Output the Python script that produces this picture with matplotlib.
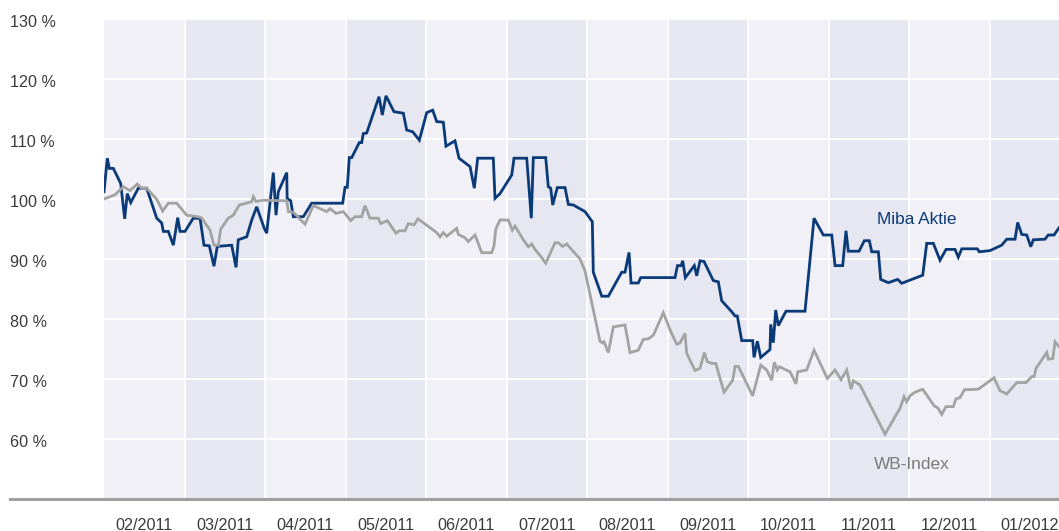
import matplotlib.pyplot as plt
from matplotlib.lines import Line2D

# x = position in months from the left edge of the chart, y = value in %
miba_x = [0.000, 0.041, 0.066, 0.116, 0.207, 0.257, 0.289, 0.332, 0.426, 0.530,
          0.655, 0.717, 0.737, 0.799, 0.861, 0.916, 0.944, 1.006, 1.109, 1.193,
          1.242, 1.308, 1.366, 1.407, 1.586, 1.640, 1.668, 1.773, 1.835, 1.897,
          1.991, 2.021, 2.103, 2.137, 2.165, 2.270, 2.275, 2.319, 2.352, 2.476,
          2.580, 2.965, 2.994, 3.022, 3.047, 3.077, 3.171, 3.201, 3.221, 3.263,
          3.416, 3.457, 3.503, 3.602, 3.718, 3.760, 3.835, 3.917, 4.009, 4.083,
          4.133, 4.215, 4.248, 4.360, 4.410, 4.547, 4.600, 4.642, 4.836, 4.857,
          4.919, 5.065, 5.093, 5.251, 5.308, 5.333, 5.487, 5.519, 5.549, 5.574,
          5.631, 5.727, 5.768, 5.830, 5.975, 6.066, 6.078, 6.183, 6.265, 6.431,
          6.472, 6.522, 6.547, 6.637, 6.667, 7.093, 7.124, 7.168, 7.189, 7.221,
          7.333, 7.363, 7.404, 7.453, 7.569, 7.631, 7.673, 7.798, 7.839, 7.867,
          7.922, 8.058, 8.075, 8.116, 8.158, 8.273, 8.282, 8.314, 8.344, 8.376,
          8.472, 8.708, 8.820, 8.935, 9.040, 9.081, 9.176, 9.217, 9.246, 9.379,
          9.445, 9.507, 9.537, 9.619, 9.648, 9.743, 9.859, 9.909, 10.170, 10.220,
          10.302, 10.385, 10.460, 10.571, 10.612, 10.655, 10.848, 10.873, 11.006, 11.151,
          11.214, 11.317, 11.350, 11.400, 11.462, 11.512, 11.544, 11.689, 11.730, 11.801,
          11.863]
miba_y = [101.2, 106.8, 105.1, 105.1, 102.6, 96.7, 100.9, 99.4, 101.8, 101.8,
          96.8, 96.0, 94.6, 94.6, 92.3, 96.9, 94.6, 94.6, 96.8, 96.8,
          92.3, 92.2, 88.8, 92.1, 92.3, 88.6, 93.2, 93.7, 96.5, 98.7,
          95.1, 94.3, 104.4, 97.3, 101.2, 104.4, 100.1, 99.7, 97.05, 97.05,
          99.3, 99.3, 101.95, 101.95, 106.9, 106.9, 109.4, 109.4, 110.9, 111.0,
          117.05, 114.0, 117.2, 114.55, 114.3, 111.5, 111.2, 109.8, 114.4, 114.8,
          112.9, 112.8, 108.8, 109.7, 106.8, 105.4, 101.8, 106.8, 106.8, 100.1,
          100.9, 104.0, 106.8, 106.8, 96.8, 106.9, 106.9, 102.05, 101.8, 99.0,
          101.9, 101.9, 99.1, 99.0, 97.9, 96.2, 87.8, 83.8, 83.8, 87.8,
          87.8, 91.1, 86.0, 86.0, 86.9, 86.9, 88.9, 88.9, 89.7, 86.9,
          88.9, 87.2, 89.7, 89.6, 86.4, 86.2, 83.05, 81.2, 80.5, 80.5,
          76.4, 76.4, 73.6, 76.3, 73.6, 74.9, 79.1, 76.05, 81.5, 78.9,
          81.3, 81.3, 96.8, 94.0, 94.0, 88.9, 88.9, 94.7, 91.3, 91.3,
          93.05, 93.05, 91.2, 91.2, 86.6, 86.05, 86.6, 85.95, 87.3, 92.6,
          92.6, 89.8, 91.6, 91.6, 90.3, 91.7, 91.7, 91.2, 91.4, 92.3,
          93.3, 93.3, 96.1, 94.1, 94.0, 92.05, 93.2, 93.3, 94.0, 94.0,
          95.2]

wb_x = [0.000, 0.137, 0.240, 0.323, 0.414, 0.468, 0.530, 0.655, 0.729, 0.799,
        0.903, 1.027, 1.171, 1.214, 1.317, 1.366, 1.420, 1.450, 1.544, 1.606,
        1.681, 1.835, 1.855, 1.888, 1.979, 2.270, 2.290, 2.352, 2.497, 2.600,
        2.766, 2.807, 2.882, 2.973, 3.065, 3.118, 3.201, 3.242, 3.304, 3.407,
        3.437, 3.519, 3.627, 3.668, 3.739, 3.780, 3.851, 3.900, 4.133, 4.174,
        4.215, 4.257, 4.381, 4.401, 4.484, 4.525, 4.609, 4.692, 4.816, 4.845,
        4.866, 4.919, 5.022, 5.072, 5.106, 5.209, 5.271, 5.313, 5.354, 5.416,
        5.487, 5.602, 5.643, 5.698, 5.748, 5.913, 5.975, 6.078, 6.161, 6.195,
        6.211, 6.265, 6.327, 6.472, 6.534, 6.637, 6.699, 6.761, 6.824, 6.948,
        7.031, 7.114, 7.155, 7.217, 7.238, 7.342, 7.404, 7.457, 7.494, 7.549,
        7.599, 7.702, 7.810, 7.839, 7.880, 7.963, 8.058, 8.158, 8.232, 8.294,
        8.327, 8.364, 8.389, 8.522, 8.596, 8.617, 8.729, 8.820, 8.985, 9.081,
        9.155, 9.226, 9.280, 9.308, 9.391, 9.702, 9.826, 9.888, 9.938, 9.971,
        10.012, 10.075, 10.170, 10.314, 10.357, 10.406, 10.460, 10.550, 10.584, 10.634,
        10.687, 10.861, 11.056, 11.130, 11.214, 11.276, 11.338, 11.453, 11.524, 11.553,
        11.578, 11.649, 11.711, 11.730, 11.786, 11.814, 11.863]
wb_y = [100.0, 100.7, 102.05, 101.4, 102.5, 101.8, 101.8, 99.95, 98.0, 99.3,
        99.3, 97.3, 97.05, 96.8, 94.8, 92.3, 92.3, 95.0, 96.8, 97.3,
        99.0, 99.55, 100.4, 99.6, 99.8, 99.7, 97.9, 97.8, 95.8, 98.9,
        97.9, 98.4, 97.6, 97.9, 96.4, 97.05, 97.05, 98.9, 96.8, 96.8,
        95.9, 96.4, 94.3, 94.7, 94.7, 95.9, 95.7, 96.7, 94.4, 93.7,
        94.4, 93.8, 95.1, 94.1, 93.55, 92.9, 94.0, 91.05, 91.05, 92.2,
        94.95, 96.5, 96.5, 94.8, 95.5, 93.2, 92.05, 92.5, 91.6, 90.6,
        89.3, 92.7, 92.7, 92.1, 92.5, 90.0, 88.0, 81.5, 76.3, 76.0,
        76.2, 74.4, 78.7, 79.0, 74.4, 74.8, 76.6, 76.7, 77.3, 81.05,
        78.2, 75.8, 76.0, 77.6, 74.3, 71.4, 71.8, 74.4, 72.9, 72.6,
        72.6, 67.8, 69.8, 72.1, 72.1, 69.8, 67.2, 72.3, 71.5, 69.8,
        72.8, 71.5, 72.05, 71.2, 69.2, 71.2, 71.5, 74.8, 70.1, 71.5,
        69.9, 71.5, 68.3, 69.7, 69.0, 60.8, 63.7, 65.1, 67.05, 66.2,
        67.2, 67.8, 68.3, 65.5, 65.2, 64.1, 65.4, 65.4, 66.7, 66.9,
        68.2, 68.3, 70.2, 68.05, 67.5, 68.45, 69.4, 69.4, 70.4, 70.4,
        71.8, 73.2, 74.4, 73.3, 73.4, 76.2, 75.4]

months = ['02/2011', '03/2011', '04/2011', '05/2011', '06/2011', '07/2011',
          '08/2011', '09/2011', '10/2011', '11/2011', '12/2011', '01/2012']
y_ticks = [60, 70, 80, 90, 100, 110, 120, 130]

W, H = 1059, 531
x_end = 11.863
navy = '#0a3a78'
grey = '#a3a3a3'
txt = '#3a3a3a'
font = 'Liberation Sans'

fig = plt.figure(figsize=(W / 100, H / 100), dpi=100)
ax = fig.add_axes([104 / W, 1 - 499 / H, 1 - 104 / W, 480 / H])
ax.set_xlim(0, x_end)
ax.set_ylim(50, 130)
ax.set_facecolor('white')

# month bands
for i in range(len(months)):
    ax.axvspan(i, min(i + 1, x_end), color='#f0f0f6' if i % 2 == 0 else '#e6e7f0',
               lw=0, zorder=0)
    if i > 0:
        ax.axvline(i, color='white', lw=1.3, zorder=1)
for v in y_ticks:
    ax.axhline(v, color='white', lw=1.3, zorder=1)

ax.plot(miba_x, miba_y, color=navy, lw=2.0, zorder=3, solid_joinstyle='miter')
ax.plot(wb_x, wb_y, color=grey, lw=2.0, zorder=4, solid_joinstyle='miter')

ax.set_xticks([])
ax.set_yticks([])
for s in ax.spines.values():
    s.set_visible(False)

# y labels (left aligned) and month labels
for v in y_ticks:
    py = 19 + (130 - v) * 6 + 7.7
    fig.text(10 / W, 1 - py / H, f'{v} %', ha='left', va='baseline',
             fontsize=11.6, color=txt, family=font)
for i, m in enumerate(months):
    px = 104 + (i + 0.5) * 80.5
    fig.text(px / W, 1 - 530 / H, m, ha='center', va='baseline',
             fontsize=11.6, color=txt, family=font)

# bottom axis line
fig.add_artist(Line2D([10 / W, 1], [1 - 499 / H, 1 - 499 / H], color='#a0a0a0', lw=2.2))

ax.text(10.09, 96.5, 'Miba Aktie', ha='center', va='center', fontsize=12.4,
        color=navy, family=font)
ax.text(10.04, 55.8, 'WB-Index', ha='center', va='center', fontsize=12.4,
        color='#7a7a7a', family=font)

fig.savefig('out.png', dpi=100)
